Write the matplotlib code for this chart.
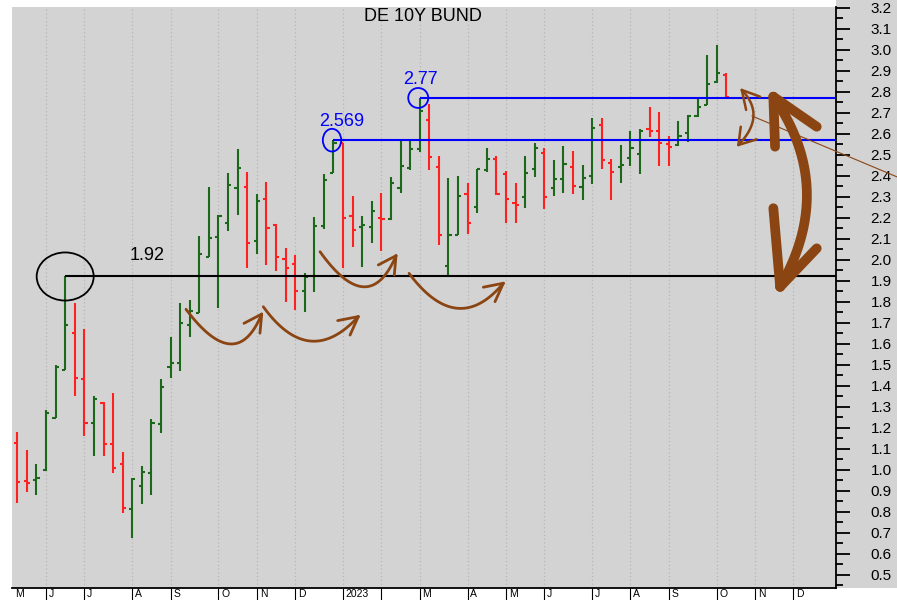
import numpy as np
import pandas as pd
import matplotlib
matplotlib.use('Agg')
import matplotlib.pyplot as plt
from matplotlib.patches import Ellipse, Rectangle
from matplotlib.transforms import blended_transform_factory

plt.rcParams['font.family'] = ['Liberation Sans', 'DejaVu Sans']

# Barras semanais (sexta-feira) do rendimento do Bund alemão a 10 anos
semanas = pd.date_range('2022-05-13', periods=75, freq='W-FRI')

abertura = [1.129, 0.945, 0.950, 0.999, 1.245, 1.475, 1.652, 1.430, 1.224, 1.319,
            1.121, 1.026, 0.811, 0.922, 0.983, 1.216, 1.490, 1.510, 1.689, 1.748,
            2.014, 2.110, 2.176, 2.340, 2.345, 2.089, 2.288, 2.165, 2.002, 1.978,
            1.851, 1.924, 2.162, 2.414, 2.554, 2.208, 2.156, 2.157, 2.197, 2.192,
            2.340, 2.435, 2.526, 2.665, 2.443, 1.970, 2.118, 2.311, 2.252, 2.427,
            2.478, 2.407, 2.271, 2.300, 2.430, 2.510, 2.340, 2.383, 2.443, 2.346,
            2.399, 2.641, 2.462, 2.443, 2.486, 2.502, 2.620, 2.614, 2.549, 2.546,
            2.605, 2.684, 2.737, 2.848, 2.880]
maxima = [1.181, 1.094, 1.027, 1.284, 1.497, 1.920, 1.795, 1.670, 1.351, 1.321,
          1.367, 1.086, 0.959, 1.019, 1.240, 1.432, 1.630, 1.795, 1.808, 2.113,
          2.348, 2.213, 2.414, 2.526, 2.419, 2.311, 2.371, 2.170, 2.054, 2.022,
          1.935, 2.202, 2.408, 2.569, 2.557, 2.303, 2.208, 2.281, 2.319, 2.392,
          2.565, 2.565, 2.770, 2.740, 2.495, 2.388, 2.400, 2.364, 2.430, 2.533,
          2.495, 2.422, 2.364, 2.495, 2.557, 2.533, 2.475, 2.541, 2.519, 2.451,
          2.673, 2.673, 2.480, 2.546, 2.613, 2.621, 2.725, 2.705, 2.591, 2.660,
          2.689, 2.776, 2.975, 3.022, 2.888]
minima = [0.843, 0.895, 0.880, 0.994, 1.245, 1.475, 1.351, 1.162, 1.065, 1.065,
          0.986, 0.792, 0.673, 0.835, 0.880, 1.176, 1.435, 1.471, 1.633, 1.748,
          2.011, 1.769, 2.137, 2.213, 1.962, 2.026, 1.975, 1.946, 1.797, 1.760,
          1.752, 1.848, 2.145, 2.411, 1.959, 2.062, 1.967, 2.078, 2.041, 2.189,
          2.316, 2.427, 2.514, 2.427, 2.070, 1.919, 2.118, 2.122, 2.224, 2.416,
          2.308, 2.173, 2.173, 2.248, 2.395, 2.240, 2.303, 2.319, 2.313, 2.284,
          2.359, 2.432, 2.284, 2.364, 2.446, 2.408, 2.586, 2.446, 2.446, 2.541,
          2.562, 2.680, 2.737, 2.840, 2.769]
fecho = [0.943, 0.935, 0.960, 1.269, 1.490, 1.689, 1.438, 1.224, 1.335, 1.121,
         1.010, 0.816, 0.954, 0.990, 1.224, 1.395, 1.510, 1.697, 1.757, 2.027,
         2.102, 2.208, 2.356, 2.435, 2.081, 2.281, 2.152, 2.014, 1.962, 1.851,
         1.919, 2.162, 2.380, 2.557, 2.197, 2.141, 2.165, 2.232, 2.192, 2.364,
         2.446, 2.526, 2.710, 2.488, 2.118, 2.118, 2.303, 2.176, 2.430, 2.480,
         2.313, 2.288, 2.260, 2.411, 2.530, 2.300, 2.383, 2.456, 2.351, 2.391,
         2.626, 2.475, 2.419, 2.451, 2.530, 2.614, 2.614, 2.554, 2.538, 2.589,
         2.684, 2.729, 2.835, 2.888, 2.775]

# niveis marcados
nivel_1 = 1.92
nivel_2 = 2.569
nivel_3 = 2.77

verde = '#1b681b'
vermelho = '#ff2020'
castanho = '#8b4513'
fundo = '#d3d3d3'

fig = plt.figure(figsize=(8.97, 6.0), dpi=100)
fig.patch.set_facecolor('white')
fig.patches.append(Rectangle((836 / 897, 12 / 600), 1, 1, transform=fig.transFigure,
                             facecolor=fundo, edgecolor='none', zorder=-1))
ax = fig.add_axes([12 / 897, 12 / 600, 824 / 897, 581 / 600])
ax.set_facecolor(fundo)

x = np.arange(len(semanas))
w = 0.33
for i in range(len(x)):
    cor = verde if fecho[i] >= abertura[i] else vermelho
    ax.vlines(x[i], minima[i], maxima[i], color=cor, lw=1.5, zorder=3)
    ax.hlines(abertura[i], x[i] - w, x[i], color=cor, lw=1.5, zorder=3)
    ax.hlines(fecho[i], x[i], x[i] + w, color=cor, lw=1.5, zorder=3)

ax.set_xlim(-0.55, 85.45)
ax.set_ylim(0.437, 3.203)

# eixo de meses
eixo = pd.date_range('2022-05-06', '2023-12-29', freq='W-FRI')
pos = np.arange(len(eixo)) - 1
limites = []
for k, d in enumerate(eixo):
    if k == 0 or d.month != eixo[k - 1].month:
        limites.append((pos[k], d))

ticks = [p for p, d in limites if p > -0.55]
ax.set_xticks(ticks)
ax.set_xticklabels([])
ax.tick_params(axis='x', length=9, width=0.8, color='black', direction='out')
for p in ticks:
    ax.axvline(p, color='#b5b5b5', lw=0.9, ls=(0, (1, 2)), zorder=1)

trans_mes = blended_transform_factory(ax.transData, fig.transFigure)
anterior_ano = False
for p, d in limites:
    if anterior_ano:
        anterior_ano = False
        continue
    if d.month == 1:
        txt = str(d.year)
        anterior_ano = True
    else:
        txt = d.strftime('%b')[0]
    xp = max(p, -0.55) + 0.3
    ax.text(xp, 1.0 / 600, txt, transform=trans_mes,
            ha='left', va='bottom', fontsize=7.5, clip_on=False)

# eixo direito
ax.yaxis.tick_right()
ax.set_yticks(np.round(np.arange(0.5, 3.21, 0.1), 1))
ax.set_yticks(np.round(np.arange(0.45, 3.2, 0.1), 2), minor=True)
ax.set_yticklabels(['%.1f' % v for v in np.arange(0.5, 3.21, 0.1)], fontsize=11)
ax.tick_params(axis='y', which='major', length=10, width=1.3, pad=15, color='black')
ax.tick_params(axis='y', which='minor', length=5, width=1.3, color='black')

for s in ['left', 'top']:
    ax.spines[s].set_visible(False)
ax.spines['right'].set_linewidth(1.3)
ax.spines['bottom'].set_linewidth(1.3)

# linhas de nivel
ax.hlines(nivel_1, 5, 85.45, color='black', lw=1.5, zorder=4)
ax.hlines(nivel_2, 33, 85.45, color='blue', lw=1.5, zorder=4)
ax.hlines(nivel_3, 42, 85.45, color='blue', lw=1.5, zorder=4)
ax.add_patch(Ellipse((5, nivel_1), 5.95, 0.229, fill=False, color='black', lw=1.3, zorder=5))
ax.add_patch(Ellipse((32.85, nivel_2), 1.92, 0.108, fill=False, color='blue', lw=1.3, zorder=5))
ax.add_patch(Ellipse((41.85, nivel_3), 2.09, 0.095, fill=False, color='blue', lw=1.3, zorder=5))
ax.text(11.77, 2.022, '1.92', fontsize=13, color='black', va='center', ha='left')
ax.text(31.49, 2.656, '2.569', fontsize=13, color='blue', va='center', ha='left')
ax.text(40.26, 2.860, '2.77', fontsize=13, color='blue', va='center', ha='left')
ax.text(0.499, 0.983, 'DE 10Y BUND', transform=ax.transAxes, fontsize=13,
        ha='center', va='center')


def curva(p0, meio, p2, lw):
    p0 = np.array(p0); meio = np.array(meio); p2 = np.array(p2)
    c = 2 * meio - (p0 + p2) / 2
    t = np.linspace(0, 1, 60)[:, None]
    pts = (1 - t) ** 2 * p0 + 2 * (1 - t) * t * c + t ** 2 * p2
    ax.plot(pts[:, 0], pts[:, 1], color=castanho, lw=lw, solid_capstyle='round', zorder=6)


def farpas(ponta, a, b, lw):
    for q in (a, b):
        ax.plot([ponta[0], q[0]], [ponta[1], q[1]], color=castanho, lw=lw,
                solid_capstyle='round', zorder=6)


setas = [
    ((17.61, 1.764), (22.2, 1.599), (25.51, 1.741), (23.66, 1.697), (25.33, 1.650)),
    ((25.68, 1.776), (30.55, 1.613), (35.59, 1.729), (33.44, 1.710), (34.73, 1.641)),
    ((31.6, 2.038), (36.12, 1.871), (39.53, 2.019), (37.68, 1.975), (39.35, 1.927)),
    ((40.89, 1.935), (45.87, 1.769), (50.73, 1.888), (48.64, 1.869), (49.86, 1.800)),
]
for p0, m, p2, a, b in setas:
    curva(p0, m, p2, 2.0)
    farpas(p2, a, b, 2.0)

# seta dupla pequena
curva((75.62, 2.808), (76.83, 2.681), (75.26, 2.546), 1.8)
farpas((75.62, 2.808), (77.53, 2.776), (76.07, 2.713), 1.8)
farpas((75.26, 2.546), (75.51, 2.633), (77.18, 2.573), 1.8)

# seta dupla grande
curva((78.91, 2.776), (82.4, 2.332), (79.62, 1.871), 7.0)
farpas((78.91, 2.776), (79.09, 2.538), (83.44, 2.633), 7.0)
farpas((79.62, 1.871), (78.91, 2.245), (83.44, 2.054), 7.0)

# linha fina
ax.plot([76.69, 91.83], [2.684, 2.394], color=castanho, lw=0.8, clip_on=False, zorder=6)

fig.savefig('out.png', dpi=100, facecolor=fig.get_facecolor())
